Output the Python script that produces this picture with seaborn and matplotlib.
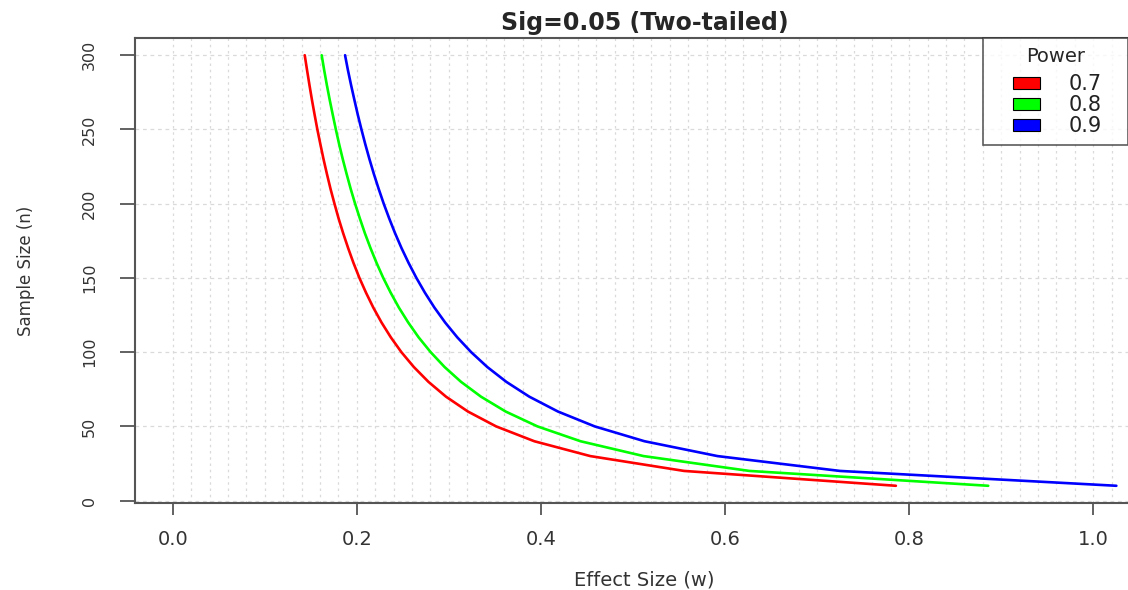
import pandas as pd
import numpy as np
import matplotlib
matplotlib.use("Agg")
import matplotlib.pyplot as plt
import seaborn as sns
from matplotlib.patches import Patch
from matplotlib.legend_handler import HandlerPatch

# sample sizes (n) and effect sizes (w)
sample_n = list(range(10, 301, 10))
power_levels = ["0.7", "0.8", "0.9"]
w_p07 = [0.7856, 0.5555, 0.4536, 0.3928, 0.3513, 0.3207, 0.2969, 0.2778, 0.2619, 0.2484,
         0.2369, 0.2268, 0.2179, 0.2100, 0.2028, 0.1964, 0.1906, 0.1852, 0.1802, 0.1757,
         0.1714, 0.1675, 0.1638, 0.1604, 0.1571, 0.1541, 0.1512, 0.1485, 0.1459, 0.1434]
w_p08 = [0.8859, 0.6265, 0.5115, 0.4430, 0.3962, 0.3617, 0.3349, 0.3132, 0.2953, 0.2802,
         0.2671, 0.2558, 0.2457, 0.2368, 0.2287, 0.2215, 0.2149, 0.2088, 0.2033, 0.1981,
         0.1933, 0.1889, 0.1847, 0.1808, 0.1772, 0.1738, 0.1705, 0.1674, 0.1645, 0.1618]
w_p09 = [1.0251, 0.7248, 0.5918, 0.5125, 0.4584, 0.4185, 0.3874, 0.3624, 0.3417, 0.3242,
         0.3091, 0.2959, 0.2843, 0.2740, 0.2647, 0.2563, 0.2486, 0.2416, 0.2352, 0.2292,
         0.2237, 0.2185, 0.2137, 0.2092, 0.2050, 0.2010, 0.1973, 0.1937, 0.1903, 0.1872]
colors = ["#ff0000", "#00ff00", "#0000ff"]

df = pd.concat([
    pd.DataFrame({"w": w, "n": sample_n, "Power": p})
    for w, p in zip([w_p07, w_p08, w_p09], power_levels)
])

sns.set_style("white")
plt.rcParams['font.family'] = ['DejaVu Sans']

W, H = 1128, 590
fig = plt.figure(figsize=(W / 100, H / 100), dpi=100)
ax = fig.add_axes([135 / W, 87 / H, 1019 / W, 465 / H])

sns.lineplot(data=df, x="w", y="n", hue="Power", palette=colors,
             estimator=None, sort=False, linewidth=1.9, legend=False, ax=ax)

ax.set_xlim(-0.041, 1.066)
ax.set_ylim(-1.6, 311.6)

# grid like the R plot
for gx in np.arange(0, 1.07, 0.02):
    ax.axvline(gx, color="#dadada", lw=0.9, ls=(0, (2, 3)), zorder=0)
for gy in range(0, 301, 50):
    ax.axhline(gy, color="#dadada", lw=0.9, ls=(0, (3, 3)), zorder=0)

ax.set_xticks(np.arange(0, 1.01, 0.2))
ax.set_xticklabels([f"{v:.1f}" for v in np.arange(0, 1.01, 0.2)], fontsize=14, color="#333333")
ax.set_yticks(range(0, 301, 50))
ax.set_yticklabels([str(v) for v in range(0, 301, 50)], fontsize=11.5, rotation=90,
                   va="center", color="#333333")
ax.tick_params(axis="x", direction="out", length=8.5, width=1.3, color="#555555",
               bottom=True, pad=11)
ax.tick_params(axis="y", direction="out", length=10.5, width=1.3, color="#555555",
               left=True, pad=17)

for s in ax.spines.values():
    s.set_color("#555555")
    s.set_linewidth(1.5)

ax.set_title("Sig=0.05 (Two-tailed)", fontsize=17, fontweight="bold", pad=6)
ax.set_xlabel("Effect Size (w)", fontsize=14, color="#333333")
ax.set_ylabel("Sample Size (n)", fontsize=12, color="#333333")
ax.xaxis.set_label_coords(0.5, (503 - 571) / 465)
ax.yaxis.set_label_coords((35 - 135) / 1019, 0.5)

handles = [Patch(facecolor=c, edgecolor="black", linewidth=0.8) for c in colors]
leg = fig.legend(handles, power_levels, title="Power", loc="upper left",
                 bbox_to_anchor=(983 / W, 0, 145 / W, 1 - 38 / H), mode="expand",
                 fontsize=15, title_fontsize=14, frameon=True, fancybox=False,
                 borderaxespad=0, borderpad=0.45, handlelength=2.3, handleheight=0.5,
                 handletextpad=1.35, labelspacing=0.05,
                 handler_map={Patch: HandlerPatch(xpad=1.0)})
leg._legend_box.sep = 5.5  # extra gap under the legend title
leg.get_frame().set_edgecolor("#333333")
leg.get_frame().set_linewidth(1.2)
for t in leg.get_texts():
    t.set_color("#222222")

fig.savefig("out.png", dpi=100)
